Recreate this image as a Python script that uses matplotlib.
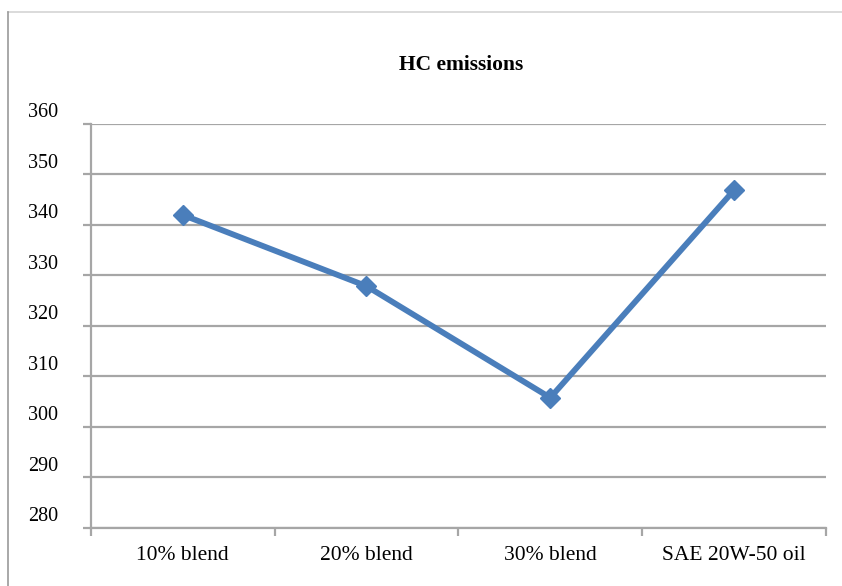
import matplotlib
matplotlib.use("Agg")
import matplotlib.pyplot as plt
from matplotlib.lines import Line2D
from matplotlib.transforms import ScaledTranslation, blended_transform_factory

categories = ["10% blend", "20% blend", "30% blend", "SAE 20W-50 oil"]
hc_values = [342.0, 327.9, 305.8, 346.9]
y_ticks = [280, 290, 300, 310, 320, 330, 340, 350, 360]

grid_color = "#a6a6a6"
line_color = "#4a7ebb"

plt.rcParams["font.family"] = ["Liberation Serif", "DejaVu Serif"]

fig = plt.figure(figsize=(8.42, 5.86), dpi=100)
ax = fig.add_axes([0.1077, 0.099, 0.981 - 0.1077, 0.7884 - 0.099])

x = list(range(len(categories)))
ax.plot(x, hc_values, color=line_color, lw=4.2, marker="D", markersize=10,
        markerfacecolor=line_color, markeredgecolor=line_color, zorder=3,
        solid_capstyle="round")

ax.set_xlim(-0.5, len(categories) - 0.5)
ax.set_ylim(y_ticks[0], y_ticks[-1])

# horizontal gridlines
for v in y_ticks:
    ax.axhline(v, color=grid_color, lw=1.6, zorder=1)

for side in ["top", "right"]:
    ax.spines[side].set_visible(False)
for side in ["left", "bottom"]:
    ax.spines[side].set_color(grid_color)
    ax.spines[side].set_linewidth(1.6)

# y ticks, labels drawn a bit above the gridlines like the original
ax.set_yticks(y_ticks)
ax.set_yticklabels([])
ax.tick_params(axis="y", length=6, width=1.6, color=grid_color, direction="out")
trans = blended_transform_factory(fig.transFigure, ax.transData)
for v in y_ticks:
    t = trans + ScaledTranslation(0, 0.11, fig.dpi_scale_trans)
    ax.text(58 / 842, v, str(v), transform=t, ha="right", va="center",
            fontsize=14.5, color="black", clip_on=False)

# x ticks at category boundaries, labels at centers
ax.set_xticks(x)
ax.set_xticklabels(categories, fontsize=15.5)
ax.tick_params(axis="x", which="major", length=0, pad=13)
ax.set_xticks([i - 0.5 for i in range(len(categories) + 1)], minor=True)
ax.tick_params(axis="x", which="minor", length=6, width=1.6, color=grid_color,
               direction="out")

fig.text(461 / 842, 1 - 65 / 586, "HC emissions", ha="center", va="center",
         fontsize=15.5, fontweight="bold")

# outer chart frame
fig.add_artist(Line2D([8 / 842, 1], [1 - 12 / 586, 1 - 12 / 586],
                      transform=fig.transFigure, color="#d4d4d4", lw=1.2))
fig.add_artist(Line2D([8 / 842, 8 / 842], [0, 1 - 12 / 586],
                      transform=fig.transFigure, color="#9a9a9a", lw=1.2))

fig.savefig("out.png", dpi=100, facecolor="white")
